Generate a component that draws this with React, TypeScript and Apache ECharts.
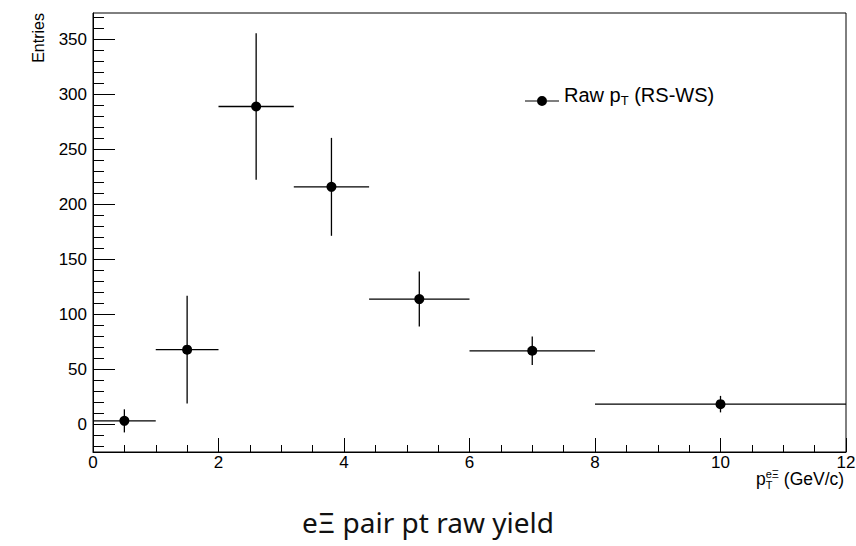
import React, { useEffect, useRef } from 'react';
import * as echarts from 'echarts';

// ---- data ----
const binLow = [0, 1, 2, 3.2, 4.4, 6, 8];
const binHigh = [1, 2, 3.2, 4.4, 6, 8, 12];
const binCenter = [0.5, 1.5, 2.6, 3.8, 5.2, 7, 10];
const rawYield = [3.3, 68, 289, 216, 114, 67, 18.5];
const yieldError = [10.5, 49, 66.5, 44.5, 25, 13, 7.5];

const yMajorTicks = [0, 50, 100, 150, 200, 250, 300, 350];
const yMinorTicks = [
  -20, -10, 0, 10, 20, 30, 40, 50, 60, 70, 80, 90, 100, 110, 120, 130, 140, 150, 160, 170,
  180, 190, 200, 210, 220, 230, 240, 250, 260, 270, 280, 290, 300, 310, 320, 330, 340, 350,
  360, 370,
];
const xMin = 0;
const xMax = 12;
const xStep = 2;
const yMin = -25;
const yMax = 374;

const seriesName = 'Raw pT (RS-WS)';
const chartTitle = 'eΞ pair pt raw yield';
const yAxisTitle = 'Entries';

const FONT = '"Liberation Sans", Arial, Helvetica, sans-serif';

export default function App() {
  const ref = useRef<HTMLDivElement>(null);

  useEffect(() => {
    if (!ref.current) return;
    const chart = echarts.init(ref.current, null, { renderer: 'svg' });

    const errData = binCenter.map((c, i) => [binLow[i], binHigh[i], c, rawYield[i], yieldError[i]]);
    const pointData = binCenter.map((c, i) => [c, rawYield[i]]);

    const option: any = {
      animation: false,
      backgroundColor: '#ffffff',
      title: {
        text: chartTitle,
        left: 'center',
        top: 503,
        textStyle: {
          fontFamily: '"Noto Sans", sans-serif',
          fontSize: 28,
          fontWeight: 'normal',
          color: '#111',
        },
      },
      legend: {
        data: [
          {
            name: seriesName,
            icon: 'path://M0,4.4H12V5.6H0Z M22,4.4H34V5.6H22Z M12,5A5,5 0 1 0 22,5A5,5 0 1 0 12,5Z',
          },
        ],
        left: 525,
        top: 85,
        padding: 0,
        itemWidth: 34,
        itemHeight: 10,
        selectedMode: false,
        formatter: () => '{m|Raw p}{s|T}{m| (RS-WS)}',
        textStyle: {
          padding: [0, 0, 12, 0],
          rich: {
            m: { fontFamily: FONT, fontSize: 20, color: '#000', lineHeight: 24 },
            s: { fontFamily: FONT, fontSize: 13, color: '#000', lineHeight: 14, verticalAlign: 'bottom' },
          },
        },
      },
      grid: {
        left: 93,
        right: 10,
        top: 13,
        bottom: 94,
        containLabel: false,
        outerBoundsMode: 'none',
        show: true,
        borderColor: '#000',
        borderWidth: 1,
        backgroundColor: 'transparent',
      },
      xAxis: {
        type: 'value',
        min: xMin,
        max: xMax,
        interval: xStep,
        axisLine: { show: true, onZero: false, lineStyle: { color: '#000', width: 1 } },
        axisTick: { show: true, inside: true, length: 14, lineStyle: { color: '#000', width: 1 } },
        minorTick: { show: true, splitNumber: 4, length: 7, lineStyle: { color: '#000', width: 1 } },
        splitLine: { show: false },
        minorSplitLine: { show: false },
        axisLabel: {
          margin: 2,
          fontFamily: FONT,
          fontSize: 17,
          color: '#000',
          showMinLabel: true,
          showMaxLabel: true,
        },
        name: '{m|p}{s|T}{u|eΞ}{m| (GeV/c)}',
        nameLocation: 'end',
        nameGap: -90,
        nameMoveOverlap: false,
        nameTextStyle: {
          align: 'left',
          verticalAlign: 'top',
          padding: [16, 0, 0, 0],
          rich: {
            m: { fontFamily: FONT, fontSize: 17.5, color: '#000', lineHeight: 22 },
            s: {
              fontFamily: FONT,
              fontSize: 11,
              color: '#000',
              lineHeight: 11,
              verticalAlign: 'bottom',
              width: 0,
            },
            u: { fontFamily: FONT, fontSize: 11, color: '#000', lineHeight: 11, verticalAlign: 'top' },
          },
        },
      },
      yAxis: [
        {
          type: 'value',
          min: yMin,
          max: yMax,
          position: 'left',
          axisLine: { show: true, onZero: false, lineStyle: { color: '#000', width: 1 } },
          axisTick: {
            show: true,
            inside: true,
            length: 22,
            customValues: yMajorTicks,
            lineStyle: { color: '#000', width: 1 },
          },
          axisLabel: {
            customValues: yMajorTicks,
            margin: 6,
            fontFamily: FONT,
            fontSize: 17,
            color: '#000',
          },
          splitLine: { show: false },
          name: yAxisTitle,
          nameLocation: 'end',
          nameGap: 0,
          nameRotate: 90,
          nameMoveOverlap: false,
          nameTextStyle: {
            align: 'right',
            verticalAlign: 'bottom',
            padding: [0, 0, 47, 0],
            fontFamily: FONT,
            fontSize: 16,
            color: '#000',
          },
        },
        {
          type: 'value',
          min: yMin,
          max: yMax,
          position: 'left',
          axisLine: { show: false },
          axisTick: {
            show: true,
            inside: true,
            length: 11,
            customValues: yMinorTicks,
            lineStyle: { color: '#000', width: 1 },
          },
          axisLabel: { show: false },
          splitLine: { show: false },
        },
      ],
      series: [
        {
          type: 'custom',
          name: 'errors',
          xAxisIndex: 0,
          yAxisIndex: 0,
          data: errData,
          encode: { x: [0, 1, 2], y: [3] },
          silent: true,
          z: 2,
          renderItem: (params: any, api: any) => {
            const y = api.value(3);
            const e = api.value(4);
            const lo = api.coord([api.value(0), y]);
            const hi = api.coord([api.value(1), y]);
            const top = api.coord([api.value(2), y + e]);
            const bot = api.coord([api.value(2), y - e]);
            const st = { stroke: '#000', lineWidth: 1.3 };
            return {
              type: 'group',
              children: [
                { type: 'line', shape: { x1: lo[0], y1: lo[1], x2: hi[0], y2: hi[1] }, style: st },
                { type: 'line', shape: { x1: top[0], y1: top[1], x2: bot[0], y2: bot[1] }, style: st },
              ],
            };
          },
        },
        {
          type: 'scatter',
          name: seriesName,
          xAxisIndex: 0,
          yAxisIndex: 0,
          data: pointData,
          symbol: 'circle',
          symbolSize: 10,
          itemStyle: { color: '#000', opacity: 1 },
          z: 3,
        },
      ],
    };

    chart.setOption(option);
    return () => chart.dispose();
  }, []);

  return (
    <div
      ref={ref}
      style={{ position: 'fixed', left: 0, top: 0, width: 856, height: 546, background: '#fff' }}
    />
  );
}
